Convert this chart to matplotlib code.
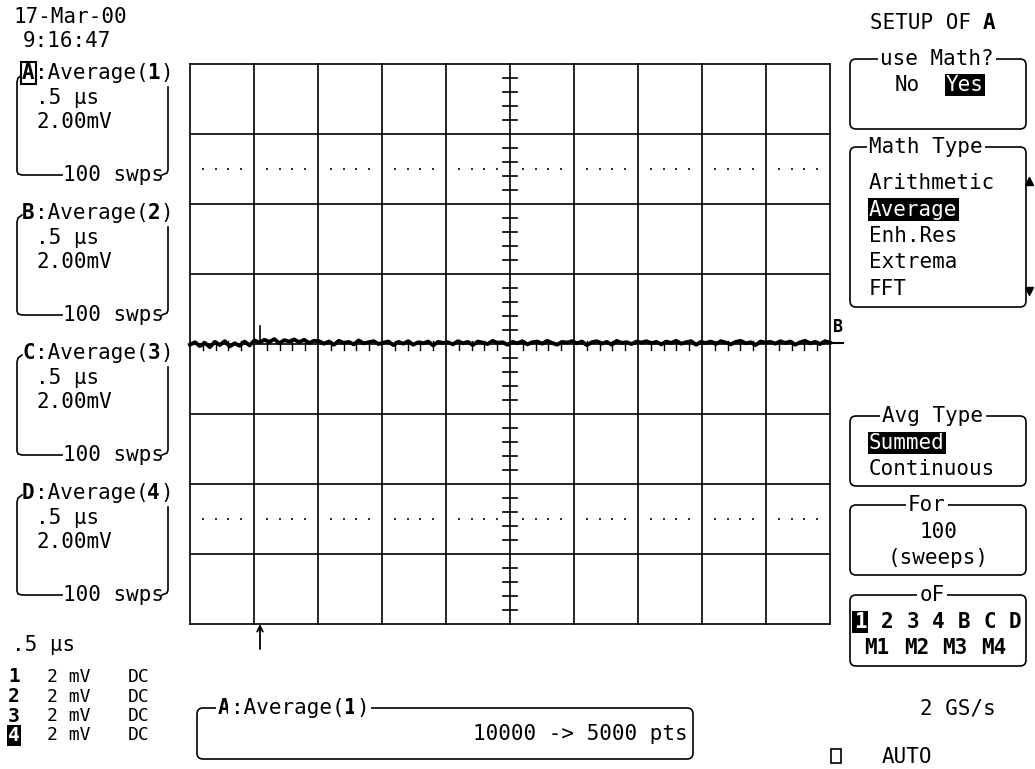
import matplotlib.pyplot as plt
import numpy as np
from matplotlib.patches import FancyBboxPatch, Rectangle

W, H = 1035, 769
MONO = 'DejaVu Sans Mono'
FS = 15
CW = 0.602 * FS * 100 / 72  # monospace advance in pixels

# --- scope settings / readout ---
time_div_us = 0.5
volt_div_mv = 2.0
n_xdiv, n_ydiv = 10, 8

# averaged trace A (mV) left to right
trace_mv = [
    -0.02, 0.05, -0.06, 0.03, -0.09, 0.06, -0.03, 0.08, -0.07, 0.02, -0.05, 0.07, -0.04,
    0.10, 0.04, 0.12, 0.06, 0.14, 0.02, 0.11, 0.07, 0.13, 0.05, 0.12, 0.03, 0.09,
    0.08, 0.01, 0.07, -0.02, 0.09, 0.03, 0.06, -0.01, 0.10, 0.02, 0.05, 0.08, 0.00,
    0.04, 0.07, -0.03, 0.06, 0.01, 0.08, -0.02, 0.05, 0.02, 0.07, -0.04, 0.06, 0.03,
    0.05, -0.01, 0.08, 0.02, 0.06, -0.03, 0.07, 0.04, 0.00, 0.09, 0.03, 0.05, -0.02,
    0.06, 0.02, 0.08, -0.01, 0.05, 0.07, 0.01, 0.09, 0.03, -0.02, 0.06, 0.04, 0.08,
    0.02, 0.07, -0.03, 0.05, 0.08, 0.01, 0.06, -0.02, 0.09, 0.03, 0.05, 0.00, 0.07,
    0.04, 0.08, 0.02, 0.06, -0.01, 0.07, 0.03, 0.09, 0.01, 0.05, 0.08, -0.02, 0.06,
    0.03, 0.07, 0.00, 0.08, 0.04, -0.01, 0.06, 0.09, 0.02, 0.05, -0.03, 0.07, 0.04,
    0.06, 0.01, 0.08, 0.03, 0.07, -0.02, 0.05, 0.09, 0.02, 0.06, 0.00, 0.08, 0.04,
]
spike_us = -1.95
spike_mv = 0.52
trigger_us = -1.95

date_str = '17-Mar-00'
time_str = '9:16:47'
trace_names = ['A', 'B', 'C', 'D']
source_nums = ['1', '2', '3', '4']
timebase_label = '.5 μs'
vdiv_label = '2.00mV'
sweeps_label = '100 swps'
input_chans = ['1', '2', '3', '4']
input_volts = ['2 mV', '2 mV', '2 mV', '2 mV']
input_coupling = ['DC', 'DC', 'DC', 'DC']
math_types = ['Arithmetic', 'Average', 'Enh.Res', 'Extrema', 'FFT']
avg_types = ['Summed', 'Continuous']
sweeps_count = '100'
sources_row1 = ['1', '2', '3', '4', 'B', 'C', 'D']
sources_row2 = ['M1', 'M2', 'M3', 'M4']
sample_rate = '2 GS/s'
points_label = '10000 -> 5000 pts'

fig = plt.figure(figsize=(W / 100, H / 100), dpi=100)
fig.patch.set_facecolor('white')

# graticule axes in pixel box 190..830 x 64..624
gx0, gx1, gy0, gy1 = 190, 830, 64, 624
ax = fig.add_axes([gx0 / W, 1 - gy1 / H, (gx1 - gx0) / W, (gy1 - gy0) / H])
xh = n_xdiv / 2 * time_div_us
yh = n_ydiv / 2 * volt_div_mv
ax.set_xlim(-xh, xh)
ax.set_ylim(-yh, yh)
ax.axis('off')
px_x = time_div_us / 64.0
px_y = volt_div_mv / 70.0

for i in range(n_xdiv + 1):
    ax.plot([-xh + i * time_div_us] * 2, [-yh, yh], color='black', lw=1.2, clip_on=False)
for j in range(n_ydiv + 1):
    ax.plot([-xh, xh], [-yh + j * volt_div_mv] * 2, color='black', lw=1.2, clip_on=False)

# centre cross minor ticks
for k in range(-25, 26):
    if k % 5:
        t = k * time_div_us / 5
        ax.plot([t, t], [-6 * px_y, 3 * px_y], color='black', lw=1)
for k in range(-20, 21):
    if k % 5:
        v = k * volt_div_mv / 5
        ax.plot([-7 * px_x, 7 * px_x], [v, v], color='black', lw=1.2)

# dotted rows
dot_t = [k * time_div_us / 5 for k in range(-25, 26) if k % 5]
for row in (2.5 * volt_div_mv, -2.5 * volt_div_mv):
    ax.plot(dot_t, [row] * len(dot_t), ls='none', marker='s', ms=1.6, color='#333333', mew=0)

# trace
t_tr = np.linspace(-xh, xh, len(trace_mv))
ax.plot(t_tr, trace_mv, color='black', lw=2.8, solid_joinstyle='round', clip_on=False)
ax.plot([spike_us, spike_us], [0.05, spike_mv], color='black', lw=1.2)

# ---------- overlay in pixel coordinates ----------
ov = fig.add_axes([0, 0, 1, 1])
ov.set_xlim(0, W)
ov.set_ylim(H, 0)
ov.axis('off')


def txt(x, y, s, bold=False, inv=False, outlined=False, ha='left', size=FS, mask=False):
    kw = dict(fontfamily=MONO, fontsize=size, ha=ha, va='center', color='black')
    if bold:
        kw['fontweight'] = 'bold'
    if inv:
        kw['color'] = 'white'
        kw['bbox'] = dict(boxstyle='square,pad=0.06', fc='black', ec='none')
    elif outlined:
        kw['bbox'] = dict(boxstyle='square,pad=0.05', fc='white', ec='black', lw=1.5)
    elif mask:
        kw['bbox'] = dict(boxstyle='square,pad=0.1', fc='white', ec='none')
    ov.text(x, y, s, **kw)


def seg_line(x, y, segs, mask=False):
    pos = 0
    for s, style in segs:
        txt(x + pos * CW, y, s, bold=('b' in style), outlined=('o' in style), mask=mask)
        pos += len(s)


def rbox(x0, y0, x1, y1):
    ov.add_patch(FancyBboxPatch((x0, y0), x1 - x0, y1 - y0,
                                boxstyle='round,pad=0,rounding_size=6',
                                fc='none', ec='black', lw=1.2))


# date / time
txt(13, 17, date_str)
txt(23, 41, time_str)

# left trace descriptors
for i, (nm, src) in enumerate(zip(trace_names, source_nums)):
    y0 = 73 + 140 * i
    yb = y0 + 102
    ov.plot([22, 18, 17, 17, 18, 22, 62], [y0 + 2, y0 + 5, y0 + 9, yb - 4, yb - 1, yb, yb],
            color='black', lw=1.2)
    ov.plot([168, 168, 167, 162], [y0 + 14, yb - 5, yb - 2, yb], color='black', lw=1.2)
    seg_line(22, y0, [(nm, 'bo' if i == 0 else 'b'), (':Average(', ''), (src, 'b'), (')', '')])
    txt(36, y0 + 25, timebase_label)
    txt(36, y0 + 49, vdiv_label)
    txt(63, yb, sweeps_label)

# bottom left readouts
txt(12, 645, timebase_label)
for k, (c, v, cp) in enumerate(zip(input_chans, input_volts, input_coupling)):
    yy = 677 + 19.5 * k
    txt(8, yy, c, bold=True, inv=(k == 3), size=FS - 1)
    txt(47, yy, v, size=FS - 2)
    txt(128, yy, cp, size=FS - 2)

# trigger arrow
ov.annotate('', xy=(260, 624), xytext=(260, 649),
            arrowprops=dict(arrowstyle='->', lw=1.3, color='black', shrinkA=0, shrinkB=0))

# trace marker at right edge
txt(833, 327, 'B', bold=True, size=12)
ov.plot([832, 843], [343, 343], color='black', lw=1.5)

# bottom info box
rbox(197, 708, 693, 759)
seg_line(218, 708, [('A', 'b'), (':Average(', ''), ('1', 'b'), (')', '')], mask=True)
txt(688, 734, points_label, ha='right')

# right menu
seg_line(870, 23, [('SETUP OF ', ''), ('A', 'b')])

rbox(850, 59, 1026, 129)
txt(937, 59, 'use Math?', ha='center', mask=True)
txt(895, 85, 'No')
txt(946, 85, 'Yes', inv=True)

rbox(850, 147, 1026, 307)
txt(869, 147, 'Math Type', mask=True)
for k, m in enumerate(math_types):
    txt(869, 183 + 26.5 * k, m, inv=(m == 'Average'))
ov.plot([1029], [181], marker='^', ms=6, color='black')
ov.plot([1029], [291], marker='v', ms=6, color='black')

rbox(850, 416, 1026, 486)
txt(933, 416, 'Avg Type', ha='center', mask=True)
txt(869, 443, avg_types[0], inv=True)
txt(869, 469, avg_types[1])

rbox(850, 505, 1026, 575)
txt(927, 505, 'For', ha='center', mask=True)
txt(938, 532, sweeps_count, ha='center')
txt(938, 558, '(sweeps)', ha='center')

rbox(850, 595, 1026, 666)
txt(932, 595, 'oF', ha='center', mask=True)
row1_x = [860, 887, 913, 938, 964, 990, 1015]
for s, xx in zip(sources_row1, row1_x):
    txt(xx, 622, s, bold=True, inv=(s == '1'), ha='center')
row2_x = [877, 917, 955, 994]
for s, xx in zip(sources_row2, row2_x):
    txt(xx, 648, s, bold=True, ha='center')

txt(920, 708, sample_rate)
ov.add_patch(Rectangle((831, 749), 10, 14, fc='none', ec='black', lw=1.2))
txt(882, 757, 'AUTO')

fig.savefig('out.png', dpi=100, facecolor='white')
